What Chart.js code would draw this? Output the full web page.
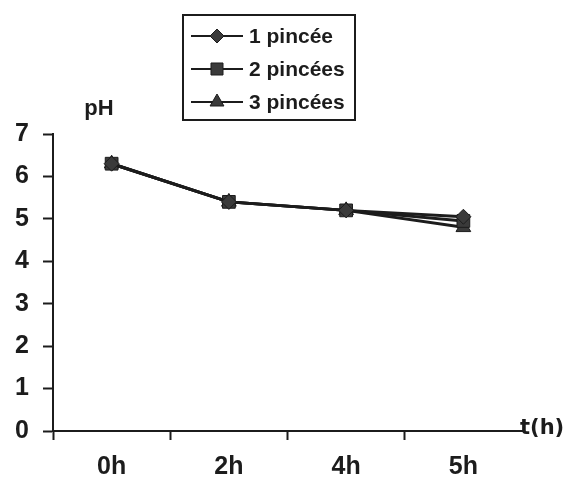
<!DOCTYPE html>
<html><head><meta charset="utf-8">
<script src="https://cdn.jsdelivr.net/npm/chart.js@4.4.1/dist/chart.umd.min.js"></script>
<style>html,body{margin:0;padding:0;background:#fff;}</style>
</head><body>
<canvas id="c" width="565" height="484"></canvas>
<script>
const categories = ['0h', '2h', '4h', '5h'];
const seriesNames = ['1 pincée', '2 pincées', '3 pincées'];
const pH1 = [6.3, 5.4, 5.2, 5.05];
const pH2 = [6.3, 5.4, 5.2, 4.95];
const pH3 = [6.3, 5.4, 5.2, 4.8];
const yTicks = [0, 1, 2, 3, 4, 5, 6, 7];
const yTitle = 'pH';
const xTitle = 't(h)';

const INK = '#1c1c1c';
const FILL = '#3a3a3a';
const styles = [
  {pointStyle: 'rectRot', radius: 7.5},
  {pointStyle: 'rect', radius: 9},
  {pointStyle: 'triangle', radius: 8.5}
];
const series = [pH1, pH2, pH3];

function drawMarker(ctx, style, r, x, y) {
  ctx.beginPath();
  if (style === 'rectRot') {
    ctx.moveTo(x - r, y); ctx.lineTo(x, y - r); ctx.lineTo(x + r, y); ctx.lineTo(x, y + r);
  } else if (style === 'rect') {
    const s = Math.SQRT1_2 * r;
    ctx.rect(x - s, y - s, 2 * s, 2 * s);
  } else {
    ctx.moveTo(x, y - r);
    ctx.lineTo(x + r * Math.sin(2 * Math.PI / 3), y - r * Math.cos(2 * Math.PI / 3));
    ctx.lineTo(x - r * Math.sin(2 * Math.PI / 3), y - r * Math.cos(2 * Math.PI / 3));
  }
  ctx.closePath();
  ctx.fillStyle = FILL; ctx.fill();
  ctx.lineWidth = 1; ctx.strokeStyle = INK; ctx.stroke();
}

const annotPlugin = {
  id: 'annot',
  afterDraw(chart) {
    const ctx = chart.ctx;
    const ca = chart.chartArea;
    ctx.save();
    // legend box
    const bx = 183, by = 15, bw = 172, bh = 105;
    ctx.lineWidth = 2; ctx.strokeStyle = INK;
    ctx.strokeRect(bx, by, bw, bh);
    chart.data.datasets.forEach((ds, i) => {
      const y = by + 21 + i * 33;
      ctx.beginPath();
      ctx.moveTo(bx + 8, y); ctx.lineTo(bx + 60, y);
      ctx.lineWidth = 2; ctx.strokeStyle = INK; ctx.stroke();
      drawMarker(ctx, ds.pointStyle, ds.pointRadius - 0.5, bx + 34, y);
      ctx.fillStyle = INK;
      ctx.font = 'bold 21px "Liberation Sans", Arial, sans-serif';
      ctx.textAlign = 'left'; ctx.textBaseline = 'middle';
      ctx.fillText(ds.label, bx + 66, y + 1);
    });
    // axis titles
    ctx.fillStyle = INK;
    ctx.font = 'bold 22px "Liberation Sans", Arial, sans-serif';
    ctx.textAlign = 'center'; ctx.textBaseline = 'alphabetic';
    ctx.fillText(yTitle, 99, 115);
    ctx.font = 'bold 21px "DejaVu Sans", sans-serif';
    ctx.textAlign = 'left'; ctx.textBaseline = 'middle';
    ctx.fillText(xTitle, ca.right - 2, ca.bottom - 2);
    ctx.restore();
  }
};

new Chart(document.getElementById('c'), {
  type: 'line',
  data: {
    labels: categories,
    datasets: series.map((d, i) => ({
      label: seriesNames[i],
      data: d,
      borderColor: INK,
      borderWidth: 3,
      backgroundColor: FILL,
      pointStyle: styles[i].pointStyle,
      pointRadius: styles[i].radius,
      pointHoverRadius: styles[i].radius,
      pointBackgroundColor: FILL,
      pointBorderColor: INK,
      pointBorderWidth: 1,
      tension: 0,
      fill: false
    }))
  },
  options: {
    responsive: false,
    devicePixelRatio: 1,
    animation: false,
    layout: {padding: {top: 134, left: 0, right: 43, bottom: 0}},
    plugins: {legend: {display: false}, tooltip: {enabled: false}},
    scales: {
      x: {
        type: 'category',
        offset: true,
        grid: {
          offset: true, drawOnChartArea: false, tickLength: 9, tickWidth: 2,
          tickColor: c => c.type === 'tick' ? INK : 'rgba(0,0,0,0)'
        },
        border: {color: INK, width: 2},
        ticks: {color: INK, padding: 12, font: {family: '"Liberation Sans", Arial, sans-serif', size: 25, weight: 'bold'}},
        afterFit: s => { s.height = 53; }
      },
      y: {
        min: 0, max: 7,
        afterBuildTicks: s => { s.ticks = yTicks.map(v => ({value: v})); },
        grid: {drawOnChartArea: false, tickLength: 10, tickWidth: 2, tickColor: INK},
        border: {color: INK, width: 2},
        ticks: {color: INK, padding: 14, font: {family: '"Liberation Sans", Arial, sans-serif', size: 25, weight: 'bold'}},
        afterFit: s => { s.width = 53; }
      }
    }
  },
  plugins: [annotPlugin]
});
</script>
</body></html>
